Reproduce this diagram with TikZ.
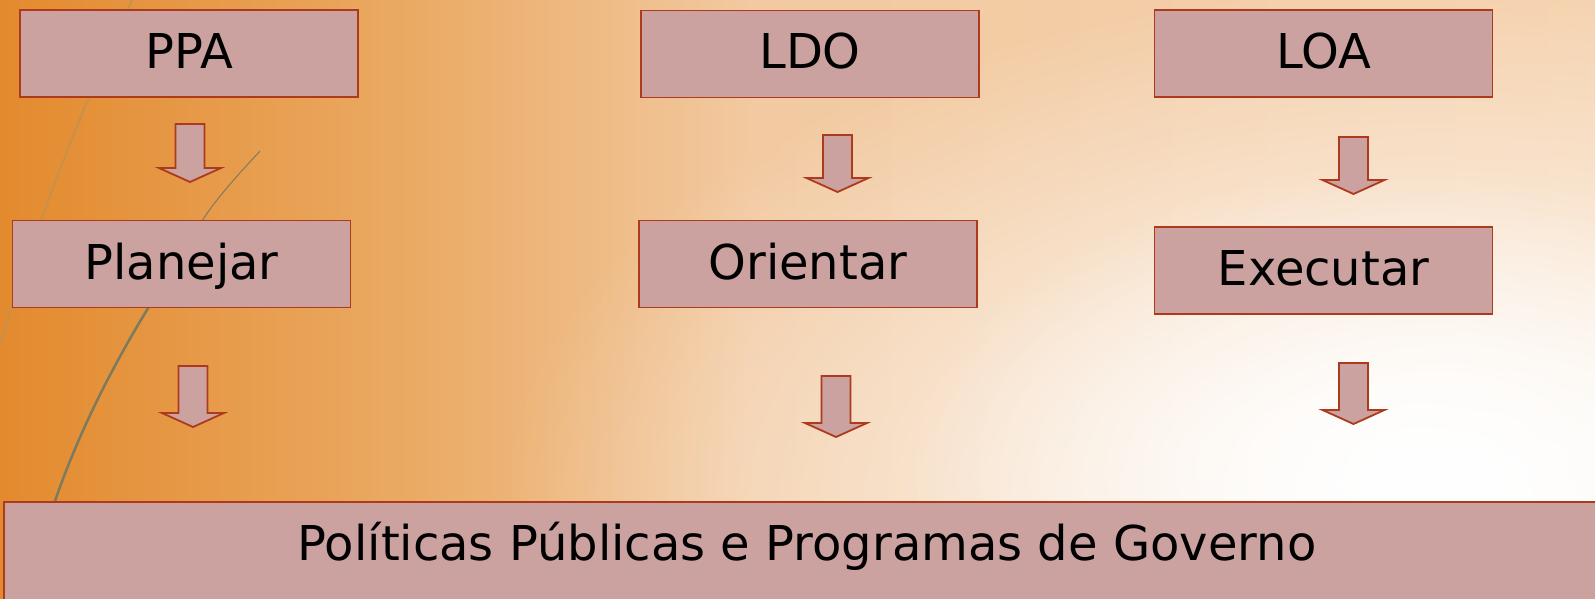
\documentclass[tikz,border=0pt]{standalone}
\usepackage{fontspec}
\setmainfont{DejaVu Sans}
\usetikzlibrary{fadings}
\definecolor{boxfill}{HTML}{CBA2A0}
\definecolor{boxline}{HTML}{AE3A1E}
\definecolor{bgA}{HTML}{E38A2E}
\definecolor{bgB}{HTML}{EAA962}
\definecolor{bgC}{HTML}{F2C9A0}
\definecolor{bgD}{HTML}{F5D2AE}
\definecolor{curvegray}{HTML}{7D7A5E}
\definecolor{curvetan}{HTML}{C99148}
\pgfdeclarehorizontalshading{bgshade}{100bp}{color(0bp)=(bgA); color(25bp)=(bgA); color(37.5bp)=(bgB); color(48.5bp)=(bgC); color(75bp)=(bgD); color(100bp)=(bgD)}
\tikzfading[name=glowfade, inner color=transparent!0, outer color=transparent!100]
\tikzset{
    box/.style={draw=boxline, fill=boxfill, line width=1.8pt, minimum width=338pt, minimum height=87pt,
        inner sep=0pt, text height=30pt, text depth=0pt, font=\fontsize{48}{58}\selectfont},
    blockarr/.style={draw=boxline, fill=boxfill, line width=1.8pt, line join=miter}
}
\newcommand{\blockarrow}[3]{%
    \draw[blockarr] (#1-14.5,#2) -- (#1+14.5,#2) -- (#1+14.5,#2+#3) -- (#1+31,#2+#3)
        -- (#1,#2+#3+14) -- (#1-31,#2+#3) -- (#1-14.5,#2+#3) -- cycle;}
\begin{document}
\begin{tikzpicture}[x=1pt,y=-1pt]
                \useasboundingbox (0,0) rectangle (1595,599);
                \shade[shading=bgshade] (0,0) rectangle (1595,599);
                \fill[white, path fading=glowfade] (1450,500) ellipse [x radius=950pt, y radius=520pt];
                \fill[white, path fading=glowfade] (1420,470) ellipse [x radius=520pt, y radius=300pt];
                \draw[curvetan, line width=2pt] (132,0) .. controls (90,90) and (40,210) .. (0,345);
                \draw[curvegray, line width=1pt] (260,151) .. controls (235,178) and (215,200) .. (200,224);
                \draw[curvegray, line width=2.5pt] (150,305) .. controls (110,370) and (75,440) .. (52,510);
                \node[box] (ppa) at (189,53.5) {PPA};
                \node[box] (ldo) at (810,54) {LDO};
                \node[box] (loa) at (1323.5,53.5) {LOA};
                \node[box] (plan) at (181.5,264) {Planejar};
                \node[box] (orient) at (808,264) {Orientar};
                \node[box] (exec) at (1323.5,270.5) {Executar};
                \node[box, minimum width=1606pt, anchor=base, text height=58pt, text depth=57pt] (pol) at (807,560) {Políticas Públicas e Programas de Governo};
                \blockarrow{190}{124}{44}
                \blockarrow{193}{366}{47}
                \blockarrow{837.5}{135}{43}
                \blockarrow{836}{376}{47}
                \blockarrow{1353.5}{137}{43}
                \blockarrow{1353.5}{363}{47}
\end{tikzpicture}
\end{document}
